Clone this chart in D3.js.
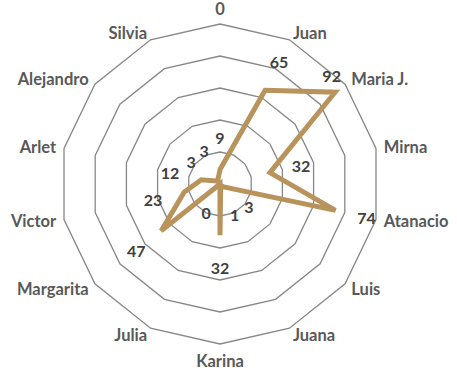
<!DOCTYPE html>
<html>
<head>
<meta charset="utf-8">
<script src="https://cdn.jsdelivr.net/npm/d3@7/dist/d3.min.js"></script>
<style>
  html, body { margin: 0; padding: 0; background: #fff; }
  svg { display: block; }
</style>
</head>
<body>
<svg id="chart" width="457" height="370"></svg>
<script>
// Category names, clockwise from the top axis
const categories = ["0", "Juan", "Maria J.", "Mirna", "Atanacio", "Luis", "Juana",
  "Karina", "Julia", "Margarita", "Victor", "Arlet", "Alejandro", "Silvia"];
// One value per category
const values = [9, 65, 92, 32, 74, 3, 1, 32, 0, 47, 23, 12, 3, 3];
// Grid rings
const ringLevels = [20, 40, 60, 80, 100];

const W = 457, H = 370;
const cx = 220, cy = 184, R = 160;

const svg = d3.select("#chart");

const angle = d3.scalePoint()
  .domain(categories)
  .range([0, 2 * Math.PI * (categories.length - 1) / categories.length]);
const r = d3.scaleLinear().domain([0, 100]).range([0, R]);

const g = svg.append("g").attr("transform", `translate(${cx},${cy})`);

const pt = (a, rad) => [rad * Math.sin(a), -rad * Math.cos(a)];

// Polygonal grid rings
const ringLine = d3.lineRadial()
  .angle(d => angle(d))
  .curve(d3.curveLinearClosed);

g.selectAll("path.ring")
  .data(ringLevels)
  .join("path")
  .attr("class", "ring")
  .attr("d", lvl => ringLine.radius(() => r(lvl))(categories))
  .attr("fill", "none")
  .attr("stroke", "#878787")
  .attr("stroke-width", 1.3);

// Series line
const seriesLine = d3.lineRadial()
  .angle((d, i) => angle(categories[i]))
  .radius(d => r(d))
  .curve(d3.curveLinearClosed);

g.append("path")
  .datum(values)
  .attr("d", seriesLine)
  .attr("fill", "none")
  .attr("stroke", "#B8935C")
  .attr("stroke-width", 5)
  .attr("stroke-linejoin", "miter");

// Category labels around the outer ring
g.selectAll("text.cat")
  .data(categories)
  .join("text")
  .attr("class", "cat")
  .each(function (d) {
    const a = angle(d);
    const [x, y] = pt(a, R + 8);
    const s = Math.sin(a), c = Math.cos(a);
    let anchor = "middle", dy = 0;
    if (Math.abs(s) < 0.1) dy = c > 0 ? -7 : 9;
    else anchor = s > 0 ? "start" : "end";
    d3.select(this)
      .attr("x", x)
      .attr("y", y + dy)
      .attr("text-anchor", anchor);
  })
  .attr("dominant-baseline", "central")
  .attr("font-family", "Lato, 'Open Sans', sans-serif")
  .attr("font-weight", "bold")
  .attr("font-size", 16.5)
  .attr("fill", "#595959")
  .text(d => d);

// Value labels, pushed outward from each point; kept inside the outer ring
g.selectAll("text.val")
  .data(values)
  .join("text")
  .attr("class", "val")
  .each(function (v, i) {
    let a = angle(categories[i]);
    let rad = r(v) + 32;
    if (rad > R) { rad = R - 4; a -= 0.1; }
    const [x, y] = pt(a, rad);
    d3.select(this).attr("x", x).attr("y", y);
  })
  .attr("text-anchor", "middle")
  .attr("dominant-baseline", "central")
  .attr("font-family", "Lato, 'Open Sans', sans-serif")
  .attr("font-weight", "bold")
  .attr("font-size", 16)
  .attr("fill", "#404040")
  .text(d => d);
</script>
</body>
</html>
